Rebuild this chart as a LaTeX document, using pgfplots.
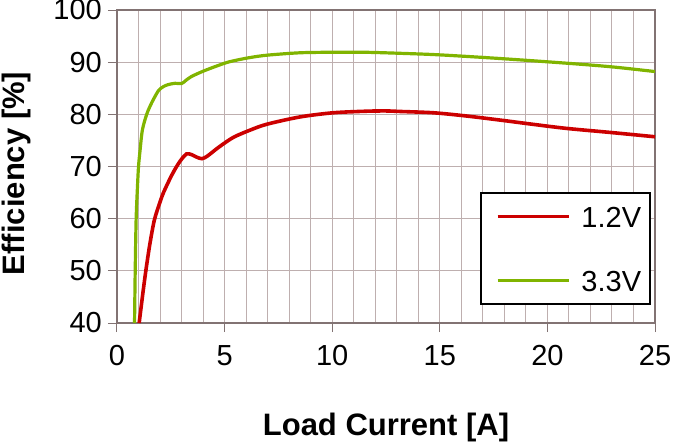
\documentclass[border=0pt]{standalone}
\usepackage{pgfplots}
\pgfplotsset{compat=1.18}
\usepackage{fontspec}
\setmainfont{Liberation Sans}
\definecolor{cred}{RGB}{204,0,0}
\definecolor{cgreen}{RGB}{128,180,0}
\definecolor{gridc}{RGB}{190,175,175}
\definecolor{axc}{RGB}{130,115,115}
\begin{document}
\begin{tikzpicture}
\path[use as bounding box] (-117pt,-121pt) rectangle (557pt,323pt);
\begin{axis}[
  at={(0pt,0pt)}, anchor=south west,
  scale only axis, width=538pt, height=313pt,
  xmin=0, xmax=25, ymin=40, ymax=100,
  xtick={0,5,10,15,20,25}, ytick={40,50,60,70,80,90,100},
  xticklabels={0,5,10,15,20,25},
  yticklabels={40,50,60,70,80,90,100},
  minor x tick num=4,
  xminorgrids=true, xmajorgrids=true, ymajorgrids=true,
  major grid style={gridc, line width=1pt},
  minor grid style={gridc, line width=1pt},
  tick align=outside, tick pos=left,
  major tick length=9pt, minor tick length=0pt,
  tick style={axc, line width=1pt},
  axis line style={axc, line width=1.2pt},
  xticklabel style={font=\fontsize{29}{31}\selectfont, anchor=center, yshift=-24pt, inner sep=0pt},
  yticklabel style={font=\fontsize{29}{31}\selectfont, anchor=east, xshift=-6pt, inner sep=0pt},
  xlabel={Load Current [A]}, ylabel={Efficiency [\%]},
  label style={font=\bfseries\fontsize{31}{33}\selectfont},
  xlabel style={at={(axis description cs:0.5,-0.335)}, anchor=center},
  ylabel style={at={(axis description cs:-0.187,0.478)}, anchor=center},
  legend style={draw=black, line width=1.8pt, fill=white,
    at={(rel axis cs:1,0)}, anchor=south east, xshift=-4pt, yshift=18pt,
    inner xsep=6pt, inner ysep=10pt, row sep=37pt, column sep=8pt,
    font=\fontsize{29}{31}\selectfont,
    nodes={inner sep=3pt, text height=21pt, text depth=0pt}},
  legend cell align=left,
  legend image code/.code={\path (0pt,0pt); \draw[#1] (9pt,0pt) -- (80pt,0pt);},
]
\addplot[cred, line width=3.6pt, smooth, tension=0.5] coordinates {
(1.03,40) (1.18,45) (1.34,50) (1.53,55.2) (1.74,59.8) (2.0,63.2) (2.15,64.9)
(2.35,66.7) (2.54,68.3) (2.77,70.0) (3.0,71.4) (3.23,72.4) (3.45,72.3) (3.7,71.8)
(3.95,71.5) (4.2,72.0) (4.6,73.3) (5.0,74.5) (5.46,75.7) (6.2,77.0) (6.96,78.1)
(8.5,79.5) (10.05,80.3) (11.6,80.6) (12.5,80.65) (13.15,80.55) (14.7,80.3)
(16.2,79.7) (17.8,78.9) (19.3,78.1) (20.9,77.3) (23,76.5) (25,75.7)
};
\addlegendentry{1.2V}
\addplot[cgreen, line width=3.2pt, smooth, tension=0.5] coordinates {
(0.815,40) (0.846,50) (0.89,60) (0.95,66) (1.0,70) (1.07,73) (1.18,77) (1.38,80)
(1.61,82.2) (1.92,84.5) (2.15,85.3) (2.38,85.7) (2.7,85.95) (3.0,85.9) (3.2,86.5)
(3.46,87.25) (4.08,88.4) (5.0,89.8) (5.46,90.3) (6.2,90.9) (7,91.35) (8.5,91.8)
(10,91.9) (11.5,91.9) (13.15,91.7) (15,91.4) (17.8,90.7) (20.9,89.8) (23,89.1)
(25,88.2)
};
\addlegendentry{3.3V}
\end{axis}
\end{tikzpicture}
\end{document}
